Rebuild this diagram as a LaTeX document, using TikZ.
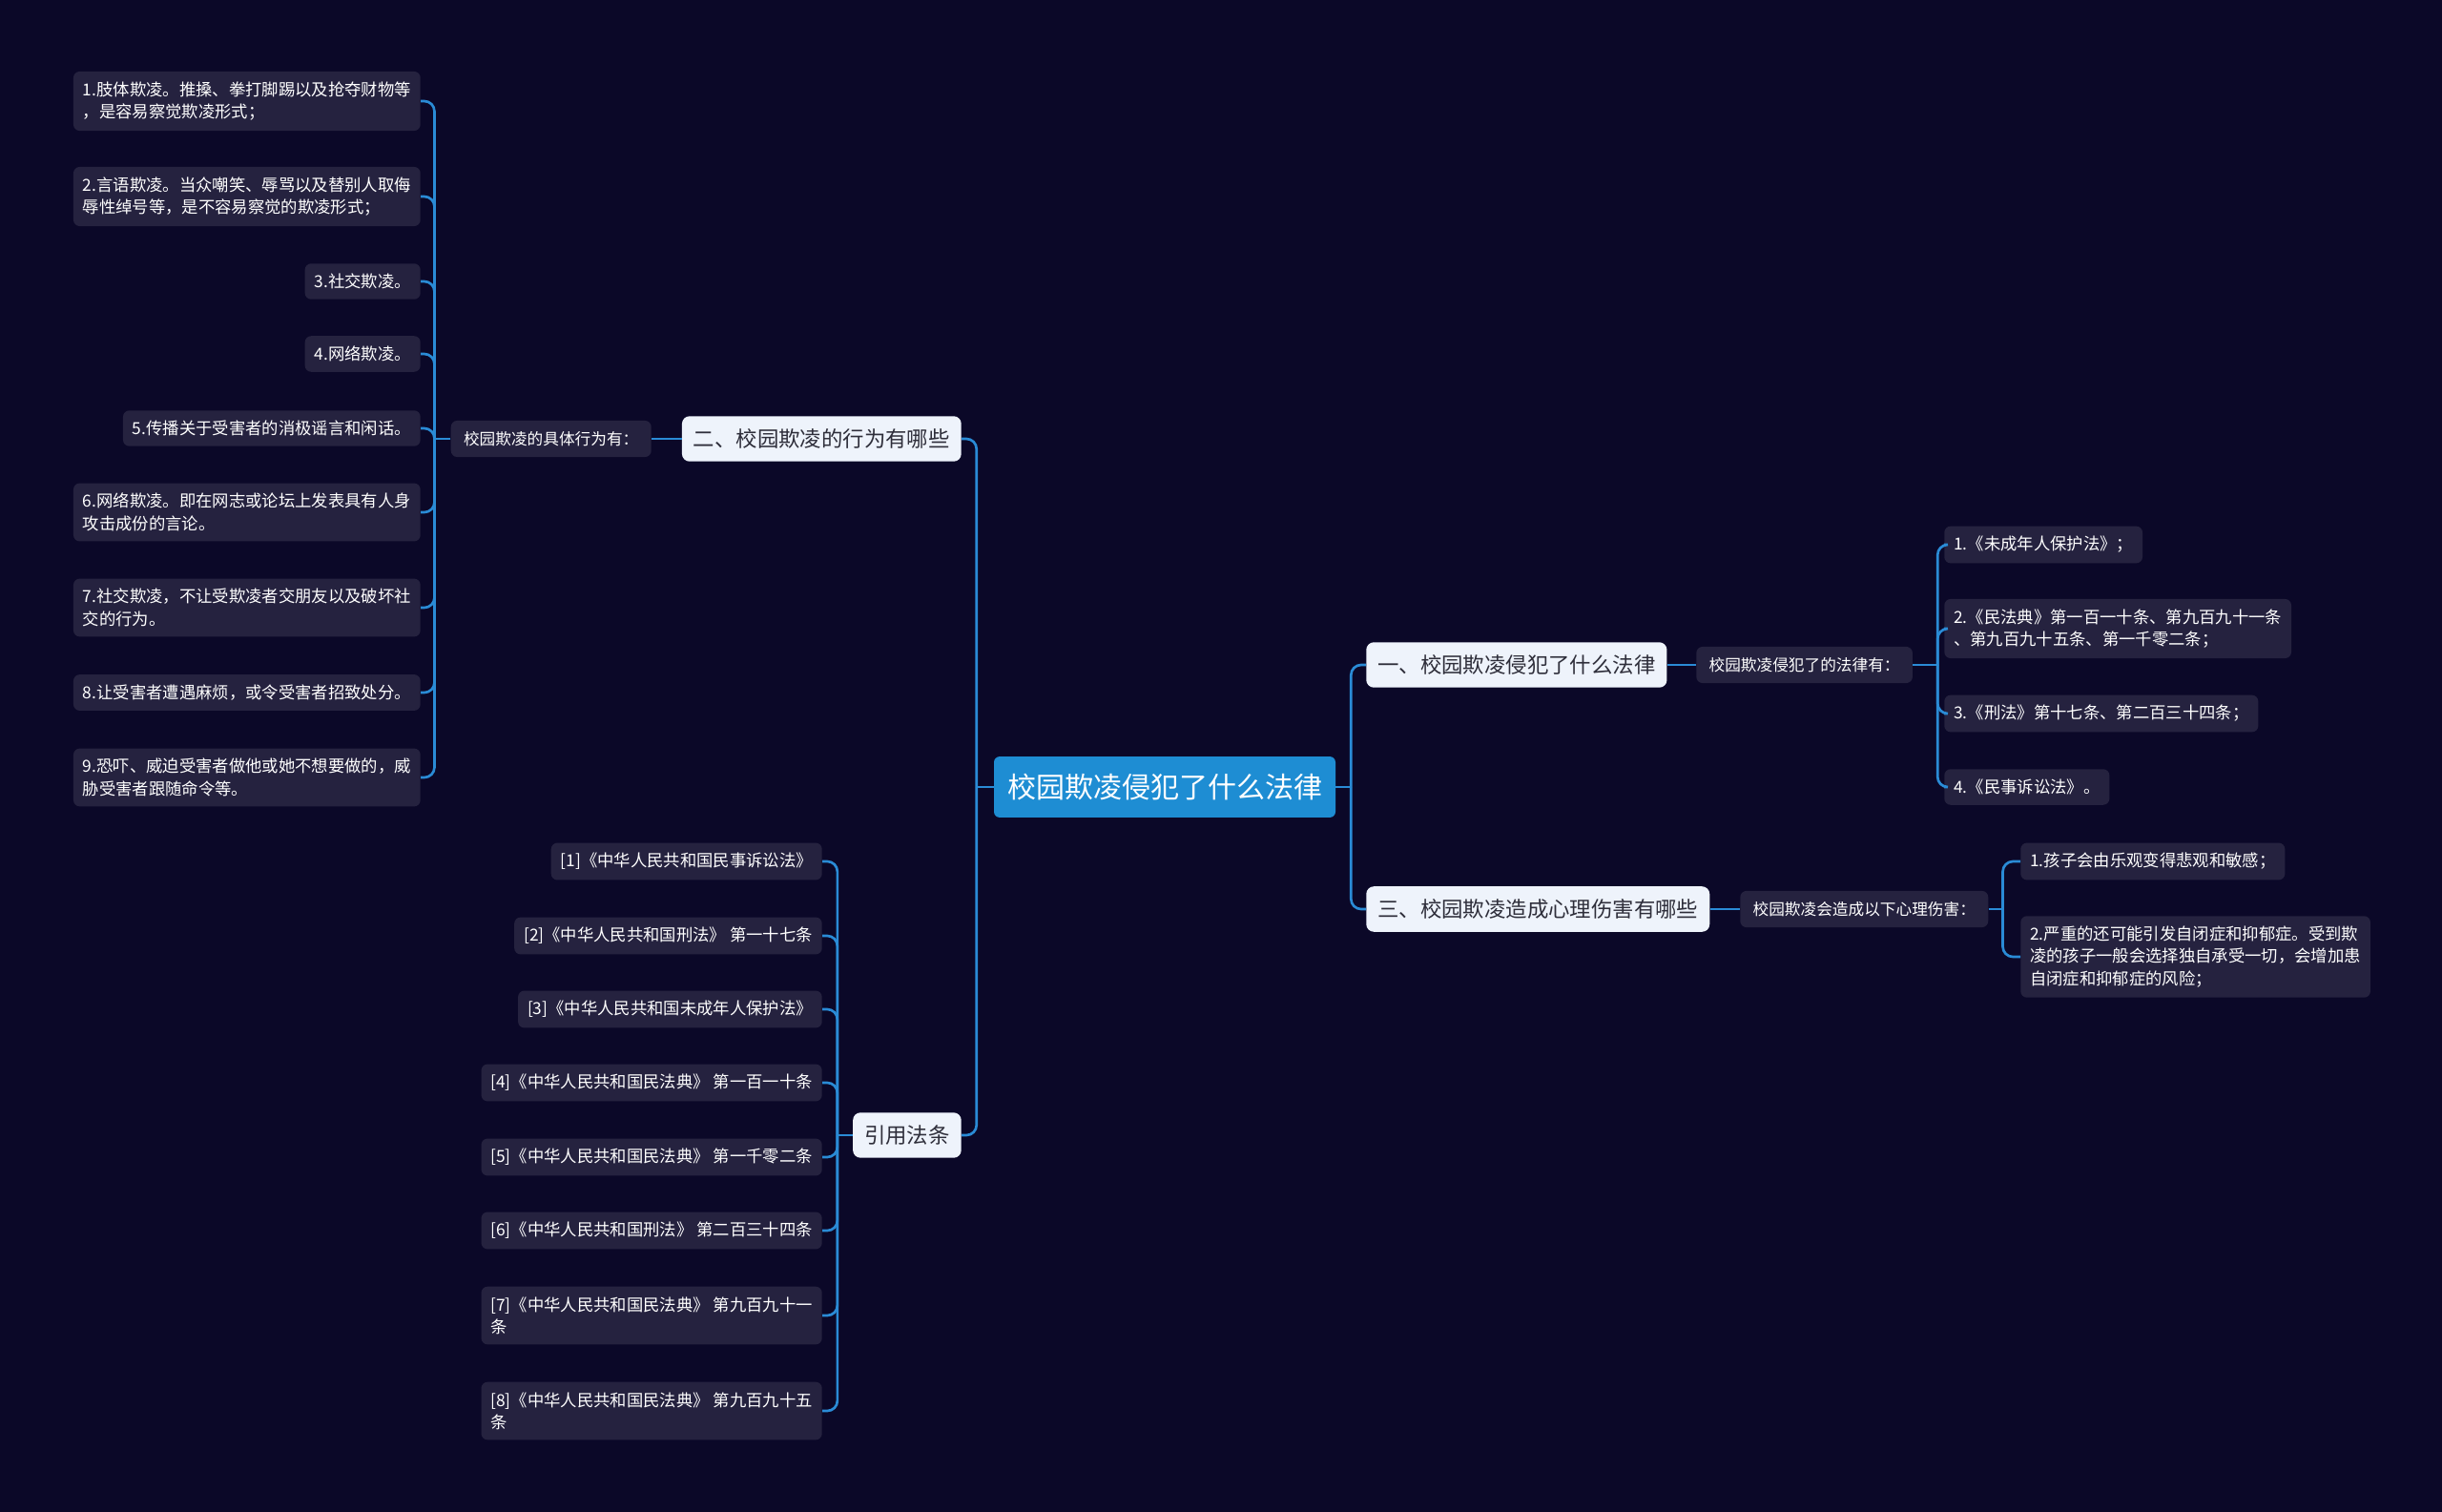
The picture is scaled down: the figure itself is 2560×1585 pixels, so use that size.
\documentclass[tikz,border=0pt]{standalone}
\usepackage{fontspec}
\setmainfont{Noto Sans CJK SC}
\usetikzlibrary{positioning}
\definecolor{mmBg}{HTML}{0B0828}
\definecolor{mmRoot}{HTML}{1E8DD3}
\definecolor{mmTopic}{HTML}{EEF3FB}
\definecolor{mmLeaf}{HTML}{25223F}
\definecolor{mmLine}{HTML}{2A8BD6}
\definecolor{mmInk}{HTML}{2E2E3A}
\tikzset{
  mmnode/.style={rounded corners=5pt, align=left, inner xsep=7.5pt, inner ysep=8pt},
  root/.style={mmnode, fill=mmRoot, text=white, font=\fontsize{22.5pt}{27pt}\selectfont,
    inner xsep=10.5pt, inner ysep=13.5pt, rounded corners=4.5pt},
  topic/.style={mmnode, fill=mmTopic, text=mmInk, font=\fontsize{16.8pt}{20pt}\selectfont,
    inner xsep=9pt, inner ysep=10pt, rounded corners=6pt},
  subtopic/.style={mmnode, fill=mmLeaf, text=white, font=\fontsize{12.5pt}{17.5pt}\selectfont,
    inner xsep=10pt, inner ysep=8.5pt},
  leaf/.style={mmnode, fill=mmLeaf, text=white, font=\fontsize{13pt}{17.5pt}\selectfont},
  link/.style={draw=mmLine, line width=2pt, rounded corners=8pt}
}

\begin{document}
\begin{tikzpicture}[x=0.75pt, y=-0.75pt]
  \fill[mmBg] (0,0) rectangle (2560,1585);
  \useasboundingbox (0,0) rectangle (2560,1585);

  % centre and main topics
  \node[root] (root) at (1221,825) {校园欺凌侵犯了什么法律};
  \node[topic, anchor=east] (t2) at (1008,460) {二、校园欺凌的行为有哪些};
  \node[topic, anchor=east] (t4) at (1008,1190) {引用法条};
  \node[topic, anchor=west] (t1) at (1432,697) {一、校园欺凌侵犯了什么法律};
  \node[topic, anchor=west] (t3) at (1432,953) {三、校园欺凌造成心理伤害有哪些};

  % second level
  \node[subtopic, anchor=east] (b2) at (683,460) {校园欺凌的具体行为有：};
  \node[subtopic, anchor=west] (b1) at (1778,697) {校园欺凌侵犯了的法律有：};
  \node[subtopic, anchor=west] (b3) at (1824,953) {校园欺凌会造成以下心理伤害：};

  % behaviours
  \node[leaf, anchor=east] (a1) at (441,106) {1.肢体欺凌。推搡、拳打脚踢以及抢夺财物等\\，是容易察觉欺凌形式；};
  \node[leaf, anchor=east] (a2) at (441,206) {2.言语欺凌。当众嘲笑、辱骂以及替别人取侮\\辱性绰号等，是不容易察觉的欺凌形式；};
  \node[leaf, anchor=east] (a3) at (441,295) {3.社交欺凌。};
  \node[leaf, anchor=east] (a4) at (441,371) {4.网络欺凌。};
  \node[leaf, anchor=east] (a5) at (441,449) {5.传播关于受害者的消极谣言和闲话。};
  \node[leaf, anchor=east] (a6) at (441,537) {6.网络欺凌。即在网志或论坛上发表具有人身\\攻击成份的言论。};
  \node[leaf, anchor=east] (a7) at (441,637) {7.社交欺凌，不让受欺凌者交朋友以及破坏社\\交的行为。};
  \node[leaf, anchor=east] (a8) at (441,726) {8.让受害者遭遇麻烦，或令受害者招致处分。};
  \node[leaf, anchor=east] (a9) at (441,815) {9.恐吓、威迫受害者做他或她不想要做的，威\\胁受害者跟随命令等。};

  % cited laws
  \node[leaf, anchor=east] (c1) at (862,903) {[1]《中华人民共和国民事诉讼法》};
  \node[leaf, anchor=east] (c2) at (862,981) {[2]《中华人民共和国刑法》 第一十七条};
  \node[leaf, anchor=east] (c3) at (862,1058) {[3]《中华人民共和国未成年人保护法》};
  \node[leaf, anchor=east] (c4) at (862,1135) {[4]《中华人民共和国民法典》 第一百一十条};
  \node[leaf, anchor=east] (c5) at (862,1213) {[5]《中华人民共和国民法典》 第一千零二条};
  \node[leaf, anchor=east] (c6) at (862,1290) {[6]《中华人民共和国刑法》 第二百三十四条};
  \node[leaf, anchor=east] (c7) at (862,1379) {[7]《中华人民共和国民法典》 第九百九十一\\条};
  \node[leaf, anchor=east] (c8) at (862,1479) {[8]《中华人民共和国民法典》 第九百九十五\\条};

  % laws broken
  \node[leaf, anchor=west] (d1) at (2038,571) {1.《未成年人保护法》；};
  \node[leaf, anchor=west] (d2) at (2038,659) {2.《民法典》第一百一十条、第九百九十一条\\、第九百九十五条、第一千零二条；};
  \node[leaf, anchor=west] (d3) at (2038,748) {3.《刑法》第十七条、第二百三十四条；};
  \node[leaf, anchor=west] (d4) at (2038,825) {4.《民事诉讼法》。};

  % harm
  \node[leaf, anchor=west] (e1) at (2118,903) {1.孩子会由乐观变得悲观和敏感；};
  \node[leaf, anchor=west] (e2) at (2118,1003) {2.严重的还可能引发自闭症和抑郁症。受到欺\\凌的孩子一般会选择独自承受一切，会增加患\\自闭症和抑郁症的风险；};

  % connectors
  \draw[link] (root.west) -- ++(-18,0) coordinate (sL);
  \draw[link] (sL) |- (t2.east);
  \draw[link] (sL) |- (t4.east);
  \draw[link] (root.east) -- ++(16,0) coordinate (sR);
  \draw[link] (sR) |- (t1.west);
  \draw[link] (sR) |- (t3.west);

  \draw[link] (t2.west) -- (b2.east);
  \draw[link] (t1.east) -- (b1.west);
  \draw[link] (t3.east) -- (b3.west);

  \draw[link] (b2.west) -- ++(-17,0) coordinate (sB2);
  \foreach \i in {1,...,9} \draw[link] (sB2) |- (a\i.east);

  \draw[link] (t4.west) -- ++(-16,0) coordinate (sT4);
  \foreach \i in {1,...,8} \draw[link] (sT4) |- (c\i.east);

  \draw[link] (b1.east) -- ++(26,0) coordinate (sB1);
  \foreach \i in {1,...,4} \draw[link] (sB1) |- (d\i.west);

  \draw[link] (b3.east) -- ++(15,0) coordinate (sB3);
  \foreach \i in {1,2} \draw[link] (sB3) |- (e\i.west);
\end{tikzpicture}
\end{document}
